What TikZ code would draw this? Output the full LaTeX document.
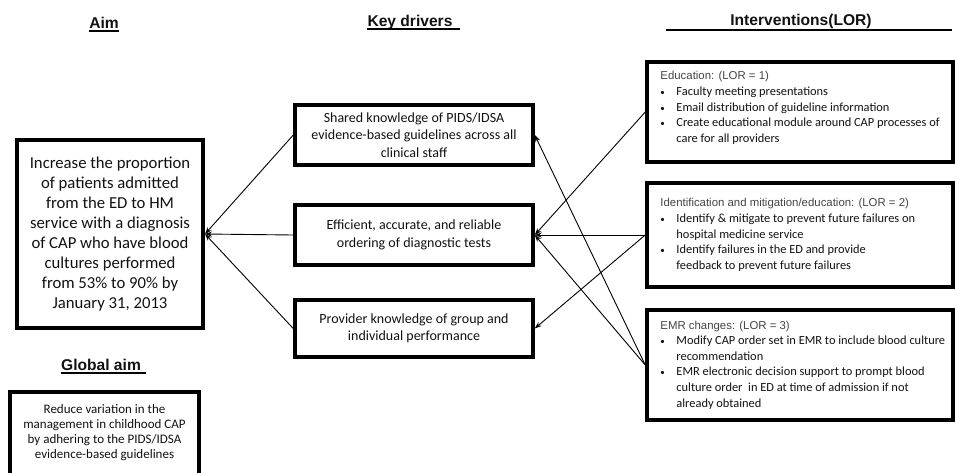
\documentclass[tikz,border=0pt]{standalone}
\usepackage{fontspec}
\setmainfont{Carlito}
\newfontfamily\arialf{Liberation Sans}
\usetikzlibrary{arrows.meta}
\definecolor{txt}{HTML}{111111}
\definecolor{hdr}{HTML}{444444}
\newcommand\bl{\makebox[16pt][l]{\fontsize{9}{9}\selectfont\textbullet}}
\newcommand\ct{\hspace*{16pt}}
\newcommand\hd[1]{{\arialf\fontsize{11.4}{15}\selectfont\color{hdr}#1}}
\begin{document}
\begin{tikzpicture}[x=1pt,y=-1pt,
  box/.style={draw, line width=3.5pt, inner sep=0pt, text=txt},
  conn/.style={line width=0.9pt, -{Stealth[length=7pt,width=5pt]}},
  ttl/.style={font=\arialf\bfseries\fontsize{15.6}{18}\selectfont, inner sep=0pt, anchor=base, text=txt},
  ulin/.style={line width=1.4pt},
  ivtext/.style={anchor=west, inner sep=0pt, align=left, text=txt, font=\fontsize{12.4}{15.6}\selectfont},
  kdtext/.style={font=\fontsize{14}{17.5}\selectfont, align=center}]
\useasboundingbox (0,0) rectangle (956,472);
\clip (0,0) rectangle (956,472);

% titles
\node[ttl] (taim) at (104,28) {Aim};
\draw[ulin] ([yshift=-3pt]taim.base west) -- ([yshift=-3pt]taim.base east);
\node[ttl] (tkd) at (410,26) {Key drivers};
\draw[ulin] ([yshift=-3pt]tkd.base west) -- ([xshift=7pt,yshift=-3pt]tkd.base east);
\node[ttl] (tiv) at (801,25) {Interventions(LOR)};
\coordinate (ivl) at (666,30);
\coordinate (ivr) at (952,30);
\draw[ulin] (ivl) -- (ivr);
\node[ttl] (tga) at (101,370) {Global aim};
\draw[ulin] ([yshift=-3pt]tga.base west) -- ([xshift=5pt,yshift=-3pt]tga.base east);

% aim
\node[box, line width=4pt, minimum width=186pt, minimum height=188pt, align=center,
      font=\fontsize{16.7}{20}\selectfont] (aim) at (110,234)
  {Increase the proportion\\of patients admitted\\from the ED to HM\\service with a diagnosis\\of CAP who have blood\\cultures performed\\from 53\% to 90\% by\\January 31, 2013};

% global aim (continues below the picture's lower edge)
\node[box, minimum width=189pt, minimum height=160pt] (ga) at (104.5,472) {};
\node[align=center, inner sep=0pt, text=txt, font=\fontsize{13}{15}\selectfont] (gat) at (104.5,433)
  {Reduce variation in the\\management in childhood CAP\\by adhering to the PIDS/IDSA\\evidence-based guidelines};

% key drivers
\node[box, kdtext, minimum width=238pt, minimum height=60pt] (kd1) at (414,135)
  {Shared knowledge of PIDS/IDSA\\evidence-based guidelines across all\\clinical staff};
\node[box, kdtext, minimum width=238pt, minimum height=60pt] (kd2) at (414,235)
  {Efficient, accurate, and reliable\\ordering of diagnostic tests};
\node[box, kdtext, minimum width=238pt, minimum height=57pt] (kd3) at (414,328.5)
  {Provider knowledge of group and\\individual performance};

% interventions
\node[box, minimum width=306pt, minimum height=100pt] (iv1) at (800,112) {};
\node[ivtext] (iv1t) at ([xshift=15pt,yshift=4pt]iv1.west)
  {\hd{Education: (LOR = 1)}\\
   \bl Faculty meeting presentations\\
   \bl Email distribution of guideline information\\
   \bl Create educational module around CAP processes of\\
   \ct care for all providers};

\node[box, minimum width=306pt, minimum height=104pt] (iv2) at (800,235) {};
\node[ivtext] (iv2t) at ([xshift=15pt]iv2.west)
  {\hd{Identification and mitigation/education: (LOR = 2)}\\
   \bl Identify \& mitigate to prevent future failures on\\
   \ct hospital medicine service\\
   \bl Identify failures in the ED and provide\\
   \ct feedback to prevent future failures};

\node[box, minimum width=306pt, minimum height=110pt] (iv3) at (800,365) {};
\node[ivtext] (iv3t) at ([xshift=15pt]iv3.west)
  {\hd{EMR changes: (LOR = 3)}\\
   \bl Modify CAP order set in EMR to include blood culture\\
   \ct recommendation\\
   \bl EMR electronic decision support to prompt blood\\
   \ct culture order\ \ in ED at time of admission if not\\
   \ct already obtained};

% connectors
\draw[conn] (kd1.west) -- (aim.east);
\draw[conn] (kd2.west) -- (aim.east);
\draw[conn] (kd3.west) -- (aim.east);
\draw[conn] (iv1.west) -- (kd2.east);
\draw[conn] (iv2.west) -- (kd2.east);
\draw[conn] (iv3.west) -- (kd2.east);
\draw[conn] (iv3.west) -- (kd1.east);
\draw[conn] (iv2.west) -- (kd3.east);
\end{tikzpicture}
\end{document}
